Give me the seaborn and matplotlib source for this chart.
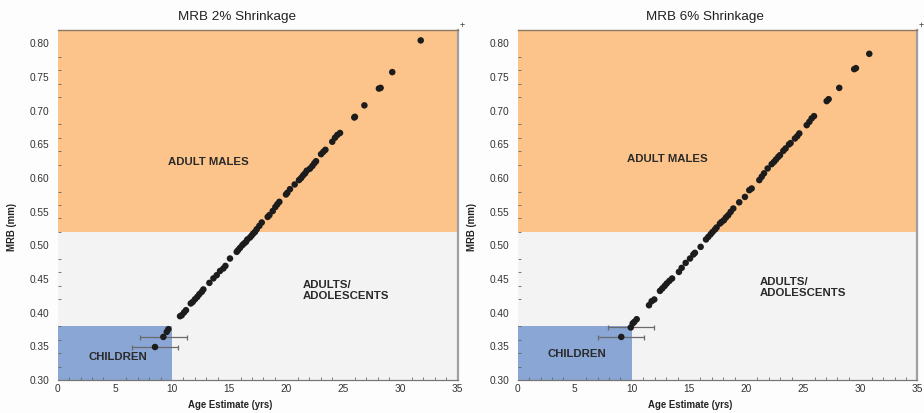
import matplotlib
matplotlib.use("Agg")
import matplotlib.pyplot as plt
from matplotlib.ticker import MultipleLocator, FormatStrFormatter
import seaborn as sns
import pandas as pd

# ---------------- data ----------------
ages_2 = [8.51, 9.24, 9.54, 9.68, 10.70, 10.85, 11.05, 11.22, 11.64, 11.81, 12.01, 12.21,
          12.39, 12.60, 12.74, 13.27, 13.62, 13.91, 14.20, 14.49, 14.67, 15.07, 15.66, 15.78,
          15.95, 16.15, 16.30, 16.47, 16.59, 16.82, 16.97, 17.11, 17.26, 17.41, 17.64, 17.85,
          18.37, 18.52, 18.81, 19.04, 19.21, 19.39, 19.97, 20.09, 20.32, 20.73, 21.11, 21.29,
          21.47, 21.64, 21.79, 22.07, 22.28, 22.45, 22.60, 23.04, 23.24, 23.42, 24.02, 24.26,
          24.46, 24.70, 25.95, 26.00, 26.83, 28.10, 28.25, 29.27, 31.76]
mrb_2 = [0.349, 0.364, 0.3715, 0.3755, 0.3948, 0.3963, 0.4003, 0.4037, 0.4137, 0.416, 0.420,
         0.4235, 0.4275, 0.431, 0.4345, 0.4443, 0.451, 0.4557, 0.462, 0.4657, 0.4695, 0.4805,
         0.4904, 0.4929, 0.4963, 0.5003, 0.5028, 0.5052, 0.5088, 0.5117, 0.5147, 0.5177, 0.520,
         0.524, 0.529, 0.534, 0.5423, 0.545, 0.551, 0.557, 0.561, 0.5647, 0.5756, 0.578, 0.5835,
         0.5905, 0.597, 0.600, 0.604, 0.607, 0.611, 0.614, 0.618, 0.622, 0.625, 0.6355, 0.639,
         0.642, 0.654, 0.660, 0.664, 0.667, 0.690, 0.691, 0.708, 0.733, 0.734, 0.7574, 0.8045]
err_ages_2 = [8.51, 9.24]
err_mrb_2 = [0.349, 0.364]
err_x_2 = [2.0, 2.03]

ages_6 = [9.07, 9.90, 10.07, 10.21, 10.42, 11.50, 11.73, 11.96, 12.46, 12.66, 12.87, 13.05,
          13.28, 13.52, 14.12, 14.36, 14.71, 15.09, 15.38, 15.52, 16.02, 16.49, 16.69, 16.90,
          17.07, 17.28, 17.42, 17.71, 17.86, 18.06, 18.24, 18.44, 18.65, 18.88, 19.40, 19.90,
          20.28, 20.49, 21.16, 21.37, 21.57, 21.89, 22.24, 22.44, 22.62, 22.82, 22.97, 23.26,
          23.46, 23.76, 23.90, 24.28, 24.48, 24.66, 25.31, 25.54, 25.74, 25.95, 27.06, 27.23,
          28.16, 29.47, 29.62, 30.79]
mrb_6 = [0.364, 0.378, 0.384, 0.3863, 0.3903, 0.4111, 0.417, 0.4196, 0.4324, 0.436, 0.4398,
         0.4434, 0.4472, 0.4508, 0.4606, 0.4666, 0.474, 0.4805, 0.4865, 0.4889, 0.4978, 0.5088,
         0.5126, 0.5166, 0.520, 0.5236, 0.5266, 0.5325, 0.5349, 0.5374, 0.5415, 0.5449, 0.5498,
         0.5548, 0.564, 0.572, 0.582, 0.5845, 0.597, 0.602, 0.607, 0.6143, 0.6207, 0.624, 0.6276,
         0.6315, 0.634, 0.6404, 0.644, 0.650, 0.652, 0.6588, 0.6622, 0.6663, 0.6786, 0.6835,
         0.6886, 0.692, 0.7143, 0.7172, 0.734, 0.7618, 0.7633, 0.7846]
err_ages_6 = [9.07, 9.90]
err_mrb_6 = [0.364, 0.378]
err_x_6 = [2.01, 2.0]

titles = ["MRB 2% Shrinkage", "MRB 6% Shrinkage"]
x_label = "Age Estimate (yrs)"
y_label = "MRB (mm)"
region_labels = ["ADULT MALES", "ADULTS/\nADOLESCENTS", "CHILDREN"]

# category thresholds
MRB_MIN, MRB_MAX = 0.30, 0.82
ADULT_MALE_MRB = 0.52
CHILD_MRB = 0.38
CHILD_AGE = 10
AGE_MAX = 35

# ---------------- style ----------------
sns.set_theme(style="white")
plt.rcParams["font.family"] = ["Liberation Sans", "DejaVu Sans"]

ORANGE = "#fcc48a"
GREY = "#f3f3f3"
BLUE = "#8aa6d5"
DOT = "#1c1c1c"
TXT = "#2a2a2a"

fig = plt.figure(figsize=(9.24, 4.13), dpi=100)
fig.patch.set_facecolor("#fdfdfd")
ax_l = fig.add_axes([0.0625, 0.0799, 0.4329, 0.8475])
ax_r = fig.add_axes([0.5603, 0.0799, 0.4325, 0.8475])

panels = [
    (ax_l, ages_2, mrb_2, err_ages_2, err_mrb_2, err_x_2, titles[0], 0.448,
     [(13.15, 0.6236), (21.4, 0.4334), (5.3, 0.3343)]),
    (ax_r, ages_6, mrb_6, err_ages_6, err_mrb_6, err_x_6, titles[1], 0.468,
     [(13.1, 0.629), (21.2, 0.438), (5.17, 0.338)]),
]

for ax, ages, mrb, ex, ey, exerr, title, tx, lab_pos in panels:
    ax.set_xlim(0, AGE_MAX)
    ax.set_ylim(MRB_MIN, MRB_MAX)
    ax.axhspan(ADULT_MALE_MRB, MRB_MAX, color=ORANGE, lw=0, zorder=0)
    ax.axhspan(MRB_MIN, ADULT_MALE_MRB, color=GREY, lw=0, zorder=0)
    ax.fill_between([0, CHILD_AGE], MRB_MIN, CHILD_MRB, color=BLUE, lw=0, zorder=0.5)

    ax.errorbar(ex, ey, xerr=exerr, fmt="none", ecolor="#6a6a6a", elinewidth=0.9,
                capsize=1.8, capthick=0.9, zorder=2)
    df = pd.DataFrame({"age": ages, "mrb": mrb})
    sns.scatterplot(data=df, x="age", y="mrb", ax=ax, color=DOT, s=22,
                    edgecolor="none", zorder=3)

    ax.text(lab_pos[0][0], lab_pos[0][1], region_labels[0], ha="center", va="center",
            fontsize=8.2, fontweight="bold", color=TXT)
    ax.text(lab_pos[1][0], lab_pos[1][1], region_labels[1], ha="left", va="center",
            fontsize=8.2, fontweight="bold", color=TXT, linespacing=1.15)
    ax.text(lab_pos[2][0], lab_pos[2][1], region_labels[2], ha="center", va="center",
            fontsize=8.2, fontweight="bold", color=TXT)

    ax.set_title(title, fontsize=9.7, color="#222222", x=tx, pad=7)
    ax.set_xlabel(x_label, fontsize=6.9, fontweight="bold", color="#222222")
    ax.set_ylabel(y_label, fontsize=6.9, fontweight="bold", color="#222222")
    ax.xaxis.set_label_coords(0.431, -0.058)
    ax.yaxis.set_label_coords(-0.102, 0.437)

    ax.xaxis.set_major_locator(MultipleLocator(5))
    ax.xaxis.set_minor_locator(MultipleLocator(1))
    ax.yaxis.set_major_locator(MultipleLocator(0.05))
    ax.yaxis.set_minor_locator(MultipleLocator(0.02))
    ax.yaxis.set_major_formatter(FormatStrFormatter("%.2f"))
    ax.tick_params(axis="both", which="major", labelsize=7.3, labelcolor="#333333",
                   color="#555555", width=0.7)
    ax.tick_params(axis="x", which="major", direction="in", length=4, pad=3)
    ax.tick_params(axis="x", which="minor", direction="in", length=2.5, width=0.6,
                   color="#666666", bottom=True)
    ax.tick_params(axis="y", which="major", direction="out", length=4, pad=2)
    ax.tick_params(axis="y", which="minor", direction="in", length=2.5, width=0.6,
                   color="#666666", left=True)

    ax.spines["left"].set_visible(False)
    ax.spines["top"].set_color("#8c7a66")
    ax.spines["top"].set_linewidth(1.0)
    ax.spines["right"].set_color("#a0a0a0")
    ax.spines["right"].set_linewidth(1.6)
    ax.spines["bottom"].set_color("#777777")
    ax.spines["bottom"].set_linewidth(0.9)
    ax.grid(False)

fig.text(462 / 924, 1 - 25.5 / 413, "+", ha="center", va="center", fontsize=6.5, color="#333333")
fig.text(920.7 / 924, 1 - 25.5 / 413, "+", ha="center", va="center", fontsize=6.5, color="#333333")

fig.savefig("out.png", dpi=100, facecolor=fig.get_facecolor())
